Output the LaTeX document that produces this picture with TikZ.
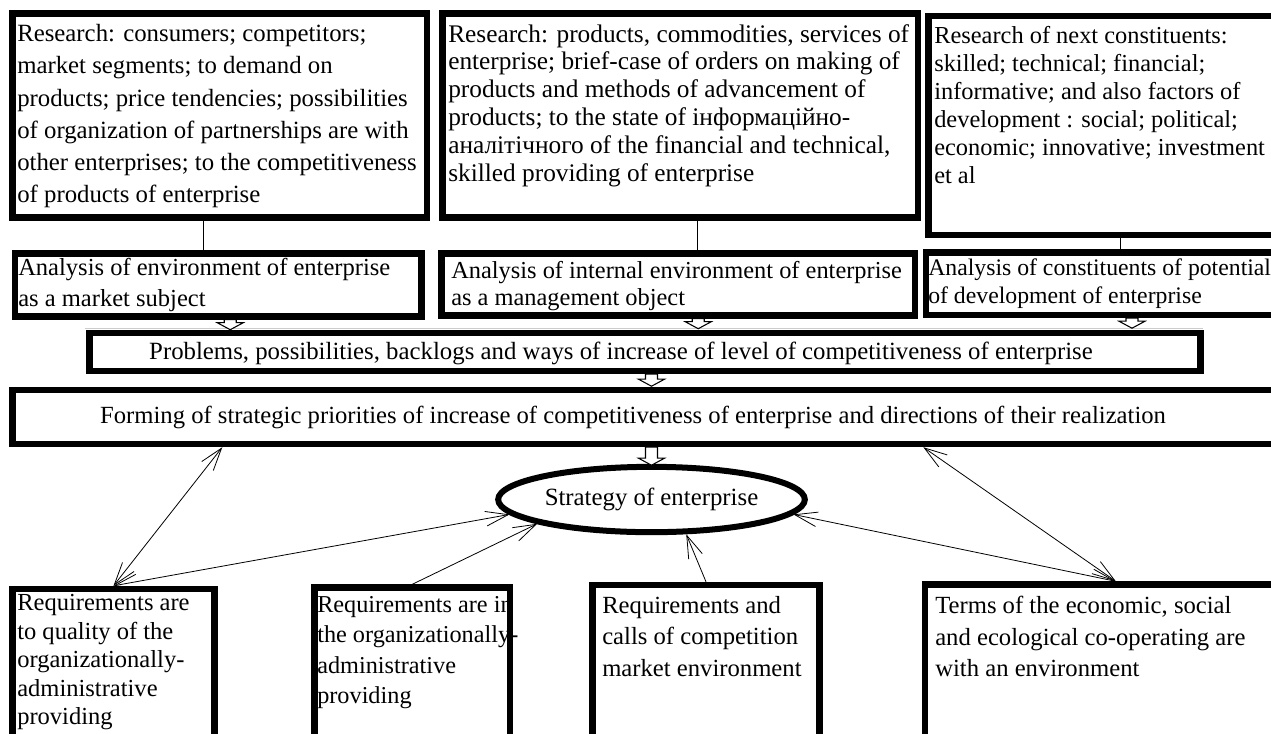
\documentclass[tikz,border=0pt]{standalone}
\usepackage{fontspec}
\setmainfont{Liberation Serif}
\usetikzlibrary{arrows.meta,shapes.geometric,fit,calc}

\begin{document}
\begin{tikzpicture}[
            x=0.75pt, y=-0.75pt,
            box/.style={draw, line width=4.8pt, inner sep=0pt},
            txt/.style={anchor=north west, inner sep=0pt, align=left},
            mid/.style={inner sep=0pt, font=\fontsize{18.6}{20}\selectfont},
            link/.style={{Straight Barb[length=17pt,width=11pt]}-{Straight Barb[length=17pt,width=11pt]}, line width=0.6pt},
            onelink/.style={-{Straight Barb[length=17pt,width=11pt]}, line width=0.6pt},
            pics/hollow/.style={code={
                \draw[line width=0.8pt, fill=white] (-6,0) -- (6,0) -- (6,#1-7) -- (13,#1-7)
                    -- (0,#1) -- (-13,#1-7) -- (-6,#1-7) -- cycle;}},
            ]
            \useasboundingbox (0,0) rectangle (1271,733);
            \draw[gray!40, line width=0.8pt] (85,328.5) -- (1203,328.5);

            \node[txt, font=\fontsize{18.6}{24.2}\selectfont] (a1t) at (17,24) {Research: consumers; competitors;\\market segments; to demand on\\products; price tendencies; possibilities\\of organization of partnerships are with\\other enterprises; to the competitiveness\\of products of enterprise};
            \node[txt, font=\fontsize{19}{20.9}\selectfont] (a2t) at (448,24) {Research: products, commodities, services of\\enterprise; brief-case of orders on making of\\products and methods of advancement of\\products; to the state of інформаційно-\\аналітічного of the financial and technical,\\skilled providing of enterprise};
            \node[txt, font=\fontsize{18.3}{21}\selectfont] (a3t) at (934,26) {Research of next constituents:\\skilled; technical; financial;\\informative; and also factors of\\development : social; political;\\economic; innovative; investment\\et al};
            \node[txt, font=\fontsize{18.4}{23.3}\selectfont] (b1t) at (18,258) {Analysis of environment of enterprise\\as a market subject};
            \node[txt, font=\fontsize{18.3}{20.3}\selectfont] (b2t) at (451,261) {Analysis of internal environment of enterprise\\as a management object};
            \node[txt, font=\fontsize{17.8}{20.3}\selectfont] (b3t) at (928,259) {Analysis of constituents of potential\\of development of enterprise};
            \node[txt, font=\fontsize{18.4}{21.4}\selectfont] (c1t) at (17,594) {Requirements are\\to quality of the\\organizationally-\\administrative\\providing};
            \node[txt, font=\fontsize{18.2}{22.9}\selectfont] (c2t) at (317,596) {Requirements are in\\the organizationally-\\administrative\\providing};
            \node[txt, font=\fontsize{18.5}{23.6}\selectfont] (c3t) at (602,596) {Requirements and\\calls of competition\\market environment};
            \node[txt, font=\fontsize{18.5}{23.6}\selectfont] (c4t) at (935,596) {Terms of the economic, social\\and ecological co-operating are\\with an environment};

            \node[box, fit={(12.5,13.5) (427,217.5)}] (a1) {};
            \node[box, fit={(442.5,13.5) (918,217.5)}] (a2) {};
            \node[box, fit={(928.5,16) (1280,235)}] (a3) {};
            \node[box, fit={(15,253.5) (421.5,316.5)}] (b1) {};
            \node[box, fit={(441.5,253.5) (915,315.5)}] (b2) {};
            \node[box, fit={(926,252.5) (1280,315)}] (b3) {};
            \node[box, fit={(89.5,333) (1200.5,371)}] (prob) {};
            \node[mid] (probt) at (621,353) {Problems, possibilities, backlogs and ways of increase of level of competitiveness of enterprise};
            \node[box, fit={(12.5,390) (1280,444)}] (form) {};
            \node[mid, font=\fontsize{18.5}{20}\selectfont] (formt) at (633,417) {Forming of strategic priorities of increase of competitiveness of enterprise and directions of their realization};
            \node[ellipse, draw, line width=4.5pt, inner sep=0pt, minimum width=230pt, minimum height=49pt, font=\fontsize{18.6}{20}\selectfont] (strat) at (651.5,499.5) {Strategy of enterprise};
            \node[box, fit={(12.5,589) (214.5,740)}] (c1) {};
            \node[box, fit={(314.5,587.5) (510,740)}] (c2) {};
            \node[box, fit={(592.5,585) (819.5,740)}] (c3) {};
            \node[box, fit={(925,584.5) (1280,740)}] (c4) {};

            \draw[line width=0.6pt] ([xshift=-12pt]a1.south) -- ([xshift=-12pt]a1.south |- b1.north);
            \draw[line width=0.6pt] ([xshift=12.5pt]a2.south) -- ([xshift=12.5pt]a2.south |- b2.north);
            \draw[line width=0.6pt] ([xshift=12pt]a3.south) -- ([xshift=12pt]a3.south |- b3.north);

            \pic at ($(b1.south)+(12,0)$) {hollow=10};
            \pic at ($(b2.south)+(20,0)$) {hollow=10};
            \pic at ($(b3.south)+(29,0)$) {hollow=10};
            \pic at (strat.north |- prob.south) {hollow=12};
            \pic at (strat.north |- form.south) {hollow=18};

            \draw[link] (c1.north) -- ($(form.south west)+(213,0)$);
            \draw[link] (c1.north) -- (strat.186);
            \draw[onelink] (c2.north) -- (strat.192);
            \draw[onelink] (c3.north) -- (strat.315);
            \draw[link] ([xshift=10pt]c4.north) -- (strat.354);
            \draw[link] ([xshift=10pt]c4.north) -- ($(form.south west)+(914,0)$);
        \end{tikzpicture}
\end{document}
